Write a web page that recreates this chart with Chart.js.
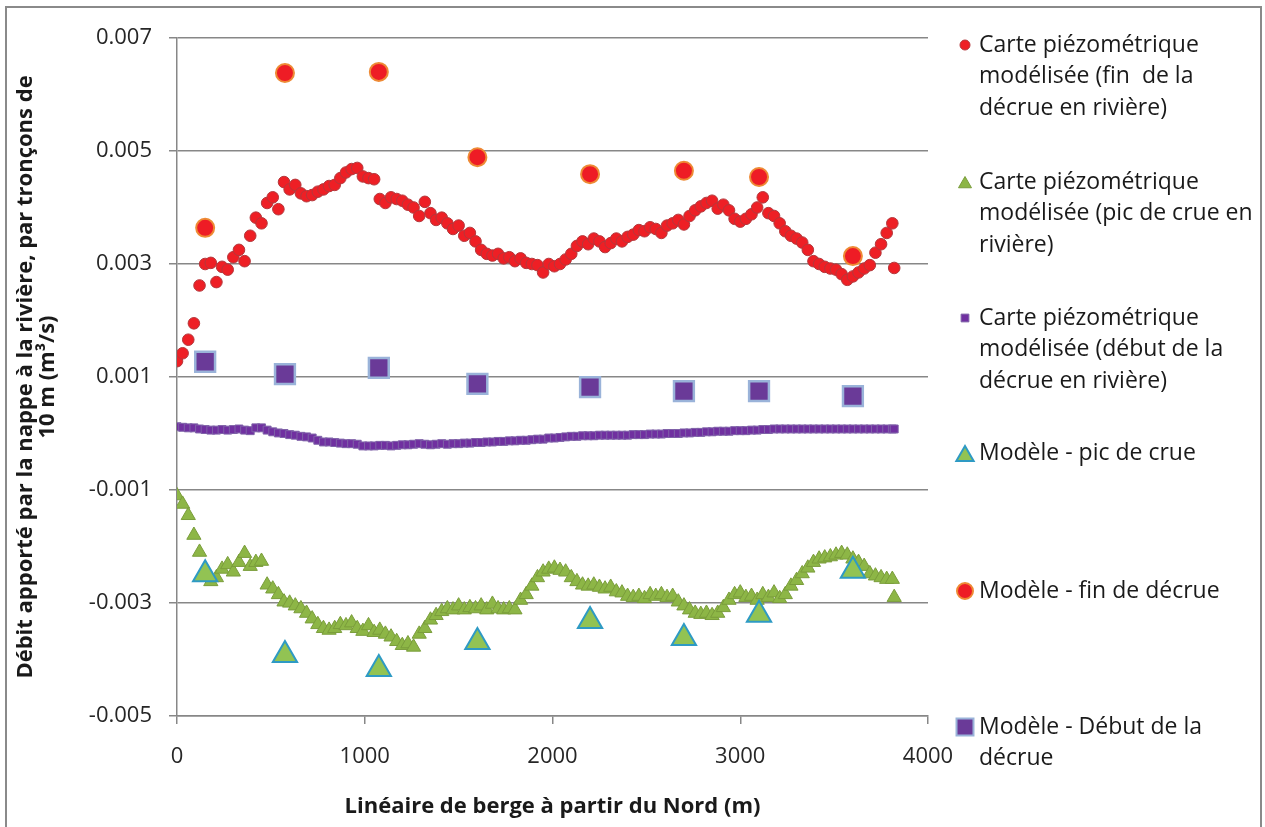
<!DOCTYPE html>
<html><head><meta charset="utf-8">
<script src="https://cdn.jsdelivr.net/npm/chart.js@4.4.1/dist/chart.umd.min.js"></script>
<style>html,body{margin:0;padding:0;background:#fff;} #wrap{width:1265px;height:827px;position:relative;}</style>
</head><body><div id="wrap"><canvas id="c" width="1265" height="827"></canvas></div>
<script>
// Distances along the bank (m)
const distances = [
  0, 30, 60, 90, 120, 150, 180, 210, 240, 270,
  300, 330, 360, 390, 420, 450, 480, 510, 540, 570,
  600, 630, 660, 690, 720, 750, 780, 810, 840, 870,
  900, 930, 960, 990, 1020, 1050, 1080, 1110, 1140, 1170,
  1200, 1230, 1260, 1290, 1320, 1350, 1380, 1410, 1440, 1470,
  1500, 1530, 1560, 1590, 1620, 1650, 1680, 1710, 1740, 1770,
  1800, 1830, 1860, 1890, 1920, 1950, 1980, 2010, 2040, 2070,
  2100, 2130, 2160, 2190, 2220, 2250, 2280, 2310, 2340, 2370,
  2400, 2430, 2460, 2490, 2520, 2550, 2580, 2610, 2640, 2670,
  2700, 2730, 2760, 2790, 2820, 2850, 2880, 2910, 2940, 2970,
  3000, 3030, 3060, 3090, 3120, 3150, 3180, 3210, 3240, 3270,
  3300, 3330, 3360, 3390, 3420, 3450, 3480, 3510, 3540, 3570,
  3600, 3630, 3660, 3690, 3720, 3750, 3780, 3810, 3820
];
// Carte piézométrique modélisée (fin de la décrue en rivière)
const carteFin = [
  0.00128, 0.00142, 0.00166, 0.00195, 0.00262, 0.00300, 0.00302, 0.00268, 0.00295, 0.00290,
  0.00312, 0.00325, 0.00305, 0.00350, 0.00382, 0.00372, 0.00408, 0.00418, 0.00397, 0.00445,
  0.00432, 0.00440, 0.00425, 0.00420, 0.00422, 0.00428, 0.00432, 0.00438, 0.00440, 0.00452,
  0.00462, 0.00468, 0.00470, 0.00455, 0.00452, 0.00450, 0.00415, 0.00408, 0.00418, 0.00415,
  0.00412, 0.00405, 0.00400, 0.00385, 0.00410, 0.00390, 0.00378, 0.00382, 0.00372, 0.00362,
  0.00368, 0.00350, 0.00355, 0.00340, 0.00325, 0.00318, 0.00315, 0.00318, 0.00310, 0.00312,
  0.00305, 0.00310, 0.00302, 0.00300, 0.00298, 0.00285, 0.00300, 0.00296, 0.00300, 0.00308,
  0.00318, 0.00332, 0.00340, 0.00335, 0.00345, 0.00340, 0.00330, 0.00337, 0.00345, 0.00340,
  0.00348, 0.00352, 0.00360, 0.00358, 0.00365, 0.00362, 0.00355, 0.00368, 0.00372, 0.00378,
  0.00370, 0.00385, 0.00395, 0.00402, 0.00408, 0.00412, 0.00398, 0.00405, 0.00395, 0.00380,
  0.00375, 0.00380, 0.00388, 0.00400, 0.00418, 0.00390, 0.00385, 0.00372, 0.00358, 0.00350,
  0.00345, 0.00338, 0.00325, 0.00305, 0.00300, 0.00295, 0.00292, 0.00290, 0.00282, 0.00272,
  0.00278, 0.00285, 0.00292, 0.00298, 0.00320, 0.00335, 0.00355, 0.00372, 0.00293
];
// Carte piézométrique modélisée (pic de crue en rivière)
const cartePic = [
  -0.00110, -0.00125, -0.00145, -0.00180, -0.00210, -0.00240, -0.00262, -0.00255, -0.00240, -0.00232,
  -0.00245, -0.00228, -0.00212, -0.00235, -0.00228, -0.00226, -0.00268, -0.00275, -0.00285, -0.00298,
  -0.00300, -0.00305, -0.00310, -0.00318, -0.00328, -0.00338, -0.00345, -0.00348, -0.00345, -0.00338,
  -0.00340, -0.00335, -0.00345, -0.00350, -0.00340, -0.00352, -0.00348, -0.00355, -0.00360, -0.00368,
  -0.00375, -0.00372, -0.00378, -0.00355, -0.00345, -0.00330, -0.00322, -0.00315, -0.00310, -0.00312,
  -0.00305, -0.00312, -0.00308, -0.00310, -0.00305, -0.00312, -0.00302, -0.00310, -0.00312, -0.00310,
  -0.00312, -0.00295, -0.00285, -0.00270, -0.00255, -0.00245, -0.00240, -0.00238, -0.00242, -0.00245,
  -0.00255, -0.00262, -0.00268, -0.00270, -0.00268, -0.00272, -0.00275, -0.00272, -0.00280, -0.00282,
  -0.00288, -0.00290, -0.00288, -0.00292, -0.00285, -0.00288, -0.00285, -0.00290, -0.00288, -0.00298,
  -0.00305, -0.00312, -0.00318, -0.00320, -0.00318, -0.00322, -0.00318, -0.00308, -0.00295, -0.00285,
  -0.00282, -0.00290, -0.00288, -0.00295, -0.00285, -0.00290, -0.00282, -0.00292, -0.00285, -0.00270,
  -0.00260, -0.00248, -0.00238, -0.00228, -0.00222, -0.00220, -0.00218, -0.00215, -0.00212, -0.00215,
  -0.00222, -0.00228, -0.00235, -0.00248, -0.00252, -0.00255, -0.00258, -0.00258, -0.00290
];
// Carte piézométrique modélisée (début de la décrue en rivière)
const carteDebut = [
  0.00012, 0.00011, 0.00010, 0.00010, 0.00008, 0.00007, 0.00006, 0.00006, 0.00007, 0.00006,
  0.00007, 0.00008, 0.00006, 0.00005, 0.00010, 0.00010, 0.00006, 0.00003, 0.00001, 0.00000,
  -0.00002, -0.00003, -0.00005, -0.00006, -0.00008, -0.00012, -0.00015, -0.00015, -0.00016, -0.00017,
  -0.00018, -0.00018, -0.00019, -0.00022, -0.00022, -0.00022, -0.00021, -0.00021, -0.00022, -0.00021,
  -0.00020, -0.00020, -0.00019, -0.00018, -0.00019, -0.00020, -0.00019, -0.00018, -0.00019, -0.00018,
  -0.00018, -0.00017, -0.00017, -0.00016, -0.00016, -0.00015, -0.00015, -0.00014, -0.00014, -0.00013,
  -0.00013, -0.00012, -0.00012, -0.00011, -0.00010, -0.00010, -0.00008, -0.00008, -0.00007, -0.00006,
  -0.00005, -0.00005, -0.00004, -0.00004, -0.00004, -0.00003, -0.00003, -0.00003, -0.00003, -0.00003,
  -0.00003, -0.00002, -0.00002, -0.00002, -0.00001, -0.00001, -0.00001, 0.00000, 0.00000, 0.00000,
  0.00001, 0.00001, 0.00002, 0.00002, 0.00003, 0.00003, 0.00004, 0.00004, 0.00004, 0.00005,
  0.00005, 0.00005, 0.00006, 0.00006, 0.00007, 0.00007, 0.00008, 0.00008, 0.00008, 0.00008,
  0.00008, 0.00008, 0.00008, 0.00008, 0.00008, 0.00008, 0.00008, 0.00008, 0.00008, 0.00008,
  0.00008, 0.00008, 0.00008, 0.00008, 0.00008, 0.00008, 0.00008, 0.00008, 0.00008
];
// Model points
const modeleX = [150, 575, 1075, 1600, 2200, 2700, 3100, 3600];
const modelePic = [-0.00249, -0.00392, -0.00417, -0.00369, -0.00332, -0.00362, -0.00321, -0.00243];
const modeleFin = [0.00364, 0.00638, 0.00640, 0.00489, 0.00459, 0.00465, 0.00454, 0.00314];
const modeleDebut = [0.00127, 0.00105, 0.00116, 0.00088, 0.00082, 0.00075, 0.00075, 0.00066];

const yTicks = [-0.005, -0.003, -0.001, 0.001, 0.003, 0.005, 0.007];
const xTicks = [0, 1000, 2000, 3000, 4000];

const seriesLabels = [
  ["Carte piézométrique", "modélisée (fin  de la", "décrue en rivière)"],
  ["Carte piézométrique", "modélisée (pic de crue en", "rivière)"],
  ["Carte piézométrique", "modélisée (début de la", "décrue en rivière)"],
  ["Modèle - pic de crue"],
  ["Modèle - fin de décrue"],
  ["Modèle - Début de la", "décrue"]
];
const yTitle = ["Débit apporté par la nappe à la rivière, par tronçons de", "10 m (m³/s)"];
const xTitle = "Linéaire de berge à partir du Nord (m)";

const mk = (xs, ys) => xs.map((x, i) => ({ x: x, y: ys[i] }));

function drawMarker(ctx, style, x, y, r, fill, stroke, bw) {
  ctx.save();
  ctx.beginPath();
  if (style === 'circle') {
    ctx.arc(x, y, r, 0, Math.PI * 2);
  } else if (style === 'triangle') {
    const h = r * 1.5, w = r * Math.sqrt(3);
    ctx.moveTo(x, y - r);
    ctx.lineTo(x + w / 2, y - r + h);
    ctx.lineTo(x - w / 2, y - r + h);
    ctx.closePath();
  } else {
    const s = r * Math.SQRT1_2;
    ctx.rect(x - s, y - s, 2 * s, 2 * s);
  }
  ctx.fillStyle = fill; ctx.fill();
  if (bw > 0) { ctx.lineWidth = bw; ctx.strokeStyle = stroke; ctx.stroke(); }
  ctx.restore();
}

const legendLayout = [
  { y: 45, mr: 5, dy: 0 },
  { y: 182, mr: 7.5, dy: 2 },
  { y: 318, mr: 5.5, dy: 0 },
  { y: 453, mr: 10, dy: 3 },
  { y: 591, mr: 8, dy: 0 },
  { y: 727, mr: 12, dy: 0 }
];

const framePlugin = {
  id: 'frame',
  beforeDraw(chart) {
    const ctx = chart.ctx;
    ctx.save();
    ctx.fillStyle = '#ffffff';
    ctx.fillRect(0, 0, chart.width, chart.height);
    ctx.strokeStyle = '#8a8a8a';
    ctx.lineWidth = 2;
    ctx.strokeRect(6, 7, chart.width - 10, chart.height + 20);
    ctx.restore();
  }
};

const legendPlugin = {
  id: 'sideLegend',
  afterDraw(chart) {
    const ctx = chart.ctx;
    ctx.save();
    ctx.font = '23px "Open Sans"';
    ctx.fillStyle = '#1a1a1a';
    ctx.textBaseline = 'middle';
    ctx.textAlign = 'left';
    chart.data.datasets.forEach((ds, i) => {
      const L = legendLayout[i];
      drawMarker(ctx, ds.pointStyle, 965, L.y + L.dy, L.mr, ds.backgroundColor, ds.borderColor, Math.min(ds.borderWidth, 2));
      seriesLabels[i].forEach((line, k) => {
        ctx.fillText(line, 979, L.y + k * 31.5);
      });
    });
    ctx.restore();
  }
};

new Chart(document.getElementById('c'), {
  type: 'scatter',
  data: {
    datasets: [
      { label: seriesLabels[0].join(' '), data: mk(distances, carteFin), pointStyle: 'circle', pointRadius: 5.8,
        backgroundColor: '#EE1F25', borderColor: '#B4383C', borderWidth: 1, order: 3 },
      { label: seriesLabels[1].join(' '), data: mk(distances, cartePic), pointStyle: 'triangle', pointRadius: 8.2,
        backgroundColor: '#8DB646', borderColor: '#7A9D3B', borderWidth: 1, order: 3 },
      { label: seriesLabels[2].join(' '), data: mk(distances, carteDebut), pointStyle: 'rect', pointRadius: 5.6,
        backgroundColor: '#7030A0', borderColor: '#7F62A8', borderWidth: 1, order: 3 },
      { label: seriesLabels[3].join(' '), data: mk(modeleX, modelePic), pointStyle: 'triangle', pointRadius: 14,
        backgroundColor: '#92C353', borderColor: '#2E9AC4', borderWidth: 2, order: 1 },
      { label: seriesLabels[4].join(' '), data: mk(modeleX, modeleFin), pointStyle: 'circle', pointRadius: 9,
        backgroundColor: '#EE1C25', borderColor: '#EE8A35', borderWidth: 2, order: 1 },
      { label: seriesLabels[5].join(' '), data: mk(modeleX, modeleDebut), pointStyle: 'rect', pointRadius: 14,
        backgroundColor: '#6A3A98', borderColor: '#9AB3D9', borderWidth: 2.5, order: 1 }
    ]
  },
  options: {
    responsive: false,
    animation: false,
    devicePixelRatio: 1,
    layout: { padding: { left: 0, top: 38, right: 337, bottom: 0 } },
    plugins: { legend: { display: false }, tooltip: { enabled: false } },
    events: [],
    scales: {
      x: {
        type: 'linear', min: 0, max: 4000,
        afterFit(s) { s.height = 111; },
        afterBuildTicks(s) { s.ticks = xTicks.map(v => ({ value: v })); },
        grid: { drawOnChartArea: false, drawTicks: true, tickLength: 8, color: '#878787', lineWidth: 1.5 },
        border: { display: true, color: '#878787', width: 1.5 },
        ticks: { font: { family: 'Open Sans', size: 22 }, color: '#262626', padding: 20, maxRotation: 0, autoSkip: false,
                 callback: v => String(v) },
        title: { display: true, text: xTitle, font: { family: 'Open Sans', size: 22, weight: 'bold', lineHeight: 1 },
                 color: '#1a1a1a', padding: { top: 0, bottom: 9 } }
      },
      y: {
        type: 'linear', min: -0.005, max: 0.007,
        afterFit(s) { s.width = 177; },
        afterBuildTicks(s) { s.ticks = yTicks.map(v => ({ value: v })); },
        grid: { color: '#878787', lineWidth: 1.5, drawTicks: true, tickLength: 8 },
        border: { display: true, color: '#878787', width: 1.5 },
        ticks: { font: { family: 'Open Sans', size: 22 }, color: '#262626', padding: 17,
                 callback: v => v.toFixed(3) },
        title: { display: true, text: yTitle, font: { family: 'Open Sans', size: 22, weight: 'bold', lineHeight: 1 },
                 color: '#1a1a1a', padding: { top: 15, bottom: 0 } }
      }
    }
  },
  plugins: [framePlugin, legendPlugin]
});
</script>
</body></html>
